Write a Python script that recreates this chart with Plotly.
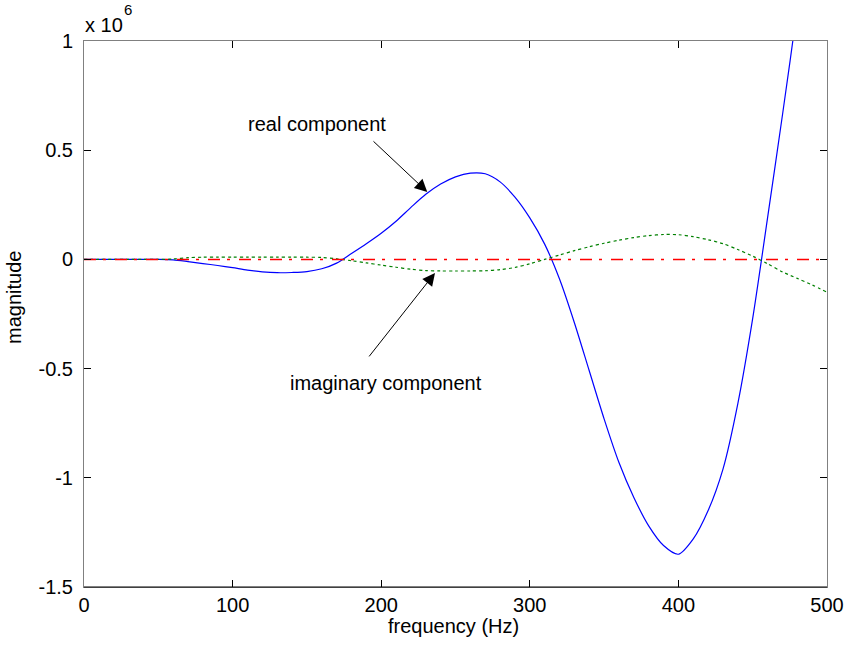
import plotly.graph_objects as go

# Frequency grid (Hz)
freq = [0, 10, 20, 30, 40, 50, 60, 70, 80, 90,
        100, 110, 120, 130, 140, 150, 160, 170, 180, 190,
        200, 210, 220, 230, 240, 250, 260, 270, 280, 290,
        300, 310, 320, 330, 340, 350, 360, 370, 380, 390,
        400, 410, 420, 430, 440, 450, 460, 470, 480, 490, 500]

# Real component (x 10^6)
real_part = [0, 0, 0, 0, 0, 0, -0.002, -0.01, -0.019, -0.028,
             -0.038, -0.049, -0.057, -0.061, -0.06, -0.056, -0.043, -0.017, 0.027, 0.072,
             0.12, 0.175, 0.238, 0.298, 0.345, 0.378, 0.395, 0.392, 0.355, 0.285,
             0.19, 0.07, -0.09, -0.29, -0.51, -0.73, -0.93, -1.09, -1.22, -1.31,
             -1.35, -1.28, -1.15, -0.96, -0.66, -0.27, 0.19, 0.66, 1.15, 1.7, 2.3]

# Imaginary component (x 10^6)
imag_part = [0, 0, 0, 0, 0, 0, 0.002, 0.008, 0.01, 0.01,
             0.01, 0.01, 0.01, 0.01, 0.01, 0.01, 0.009, 0.003, -0.006, -0.016,
             -0.026, -0.036, -0.045, -0.051, -0.053, -0.053, -0.053, -0.052, -0.047, -0.037,
             -0.02, 0.0, 0.02, 0.04, 0.058, 0.074, 0.088, 0.1, 0.109, 0.114,
             0.113, 0.104, 0.09, 0.072, 0.045, 0.015, -0.02, -0.057, -0.087, -0.117, -0.15]

# Zero reference
zero_line = [0 for _ in freq]

x_ticks = [0, 100, 200, 300, 400, 500]
y_ticks = [1, 0.5, 0, -0.5, -1, -1.5]
y_tick_text = ["1", "0.5", "0", "-0.5", "-1", "-1.5"]

FONT = "Liberation Sans, Arial, sans-serif"

fig = go.Figure()
fig.add_trace(go.Scatter(x=freq, y=real_part, mode="lines",
                         line=dict(color="#0000ff", width=1.2, shape="spline", smoothing=0.8)))
fig.add_trace(go.Scatter(x=freq, y=imag_part, mode="lines",
                         line=dict(color="#008000", width=1.2, dash="3px,3px",
                                   shape="spline", smoothing=0.8)))
fig.add_trace(go.Scatter(x=freq, y=zero_line, mode="lines",
                         line=dict(color="#ff0000", width=1.5, dash="12px,7px,3px,9px")))

axis_common = dict(
    showgrid=False, zeroline=False, showline=True, linecolor="#808080", linewidth=1,
    mirror="ticks", ticks="inside", ticklen=7, tickcolor="#000000", tickwidth=1,
    tickfont=dict(family=FONT, size=20, color="#000000"), automargin=False,
)

fig.update_xaxes(range=[0, 500], tickvals=x_ticks, ticklabelstandoff=0, **axis_common)
fig.update_yaxes(range=[-1.5, 1], tickvals=y_ticks, ticktext=y_tick_text,
                 ticklabelstandoff=6, **axis_common)

annotations = [
    # axis labels
    dict(text="frequency (Hz)", xref="paper", yref="paper", x=(453 - 84) / 743, y=-(626 - 587) / 546,
         showarrow=False, xanchor="center", yanchor="middle",
         font=dict(family=FONT, size=20, color="#000000")),
    dict(text="magnitude", xref="paper", yref="paper", x=-(84 - 14) / 743, y=(587 - 298) / 546,
         showarrow=False, xanchor="center", yanchor="middle", textangle=-90,
         font=dict(family=FONT, size=20, color="#000000")),
    # exponent label
    dict(text="x 10", xref="paper", yref="paper", x=-1 / 743, y=(587 - 25) / 546,
         showarrow=False, xanchor="left", yanchor="middle",
         font=dict(family=FONT, size=20, color="#000000")),
    dict(text="6", xref="paper", yref="paper", x=(128 - 84) / 743, y=(587 - 10) / 546,
         showarrow=False, xanchor="center", yanchor="middle",
         font=dict(family=FONT, size=15, color="#000000")),
    # curve labels
    dict(text="real component", x=156.8, y=0.62, showarrow=False,
         xanchor="center", yanchor="middle", font=dict(family=FONT, size=20, color="#000000")),
    dict(text="imaginary component", x=203.2, y=-0.565, showarrow=False,
         xanchor="center", yanchor="middle", font=dict(family=FONT, size=20, color="#000000")),
    # arrows
    dict(text="", x=231.0, y=0.309, ax=193.8, ay=0.547, axref="x", ayref="y",
         showarrow=True, arrowhead=2, arrowsize=2.5, arrowwidth=1, arrowcolor="#000000"),
    dict(text="", x=236.2, y=-0.062, ax=191.1, ay=-0.451, axref="x", ayref="y",
         showarrow=True, arrowhead=2, arrowsize=2.5, arrowwidth=1, arrowcolor="#000000"),
]

fig.update_layout(
    width=848, height=651,
    margin=dict(l=84, r=21, t=41, b=64, autoexpand=False),
    paper_bgcolor="#ffffff", plot_bgcolor="#ffffff",
    showlegend=False,
    annotations=annotations,
    shapes=[dict(type="line", xref="paper", yref="paper", x0=0, x1=1, y0=0, y1=0,
                 line=dict(color="#000000", width=1))],
)

fig.write_html("out.html")
